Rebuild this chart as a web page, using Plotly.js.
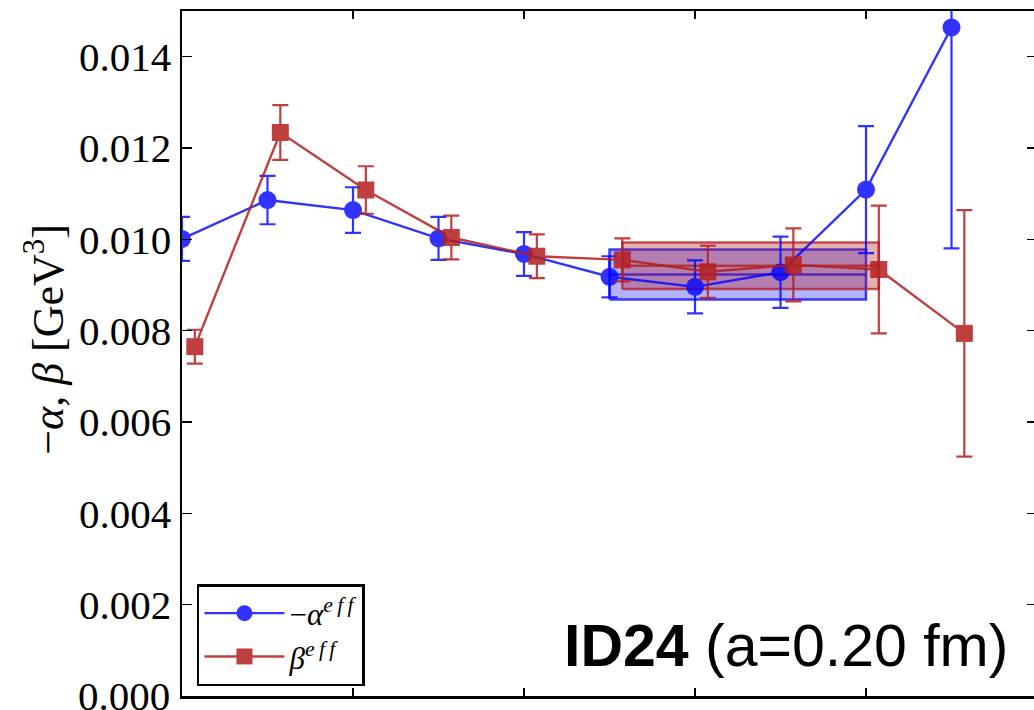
<!DOCTYPE html>
<html>
<head>
<meta charset="utf-8">
<script src="https://cdn.plot.ly/plotly-3.0.1.min.js"></script>
<style>
html,body{margin:0;padding:0;overflow:hidden;background:#fff;width:1034px;height:710px;}
#chart{width:1040px;height:710px;}
</style>
</head>
<body>
<div id="chart"></div>
<script>
// Time slices
const tAlpha = [0, 1, 2, 3, 4, 5, 6, 7, 8, 9];
const tBeta  = [0.15, 1.15, 2.15, 3.15, 4.15, 5.15, 6.15, 7.15, 8.15, 9.15];
// -alpha^eff values and errors [GeV^3]
const alphaVals = [0.01001, 0.01086, 0.01064, 0.01002, 0.00968, 0.00918, 0.00896, 0.00928, 0.01109, 0.01464];
const alphaErrs = [0.00048, 0.00053, 0.00050, 0.00047, 0.00048, 0.00045, 0.00058, 0.00078, 0.00139, 0.00484];
// beta^eff values and errors [GeV^3]
const betaVals = [0.00765, 0.01234, 0.01108, 0.01004, 0.00963, 0.00955, 0.00929, 0.00944, 0.00934, 0.00794];
const betaErrs = [0.00037, 0.00060, 0.00052, 0.00048, 0.00048, 0.00047, 0.00057, 0.00080, 0.00140, 0.00270];
// Fit bands: [tStart, tEnd], central value, error
const alphaFitT = [5, 8];
const alphaFit = [0.00923, 0.00055];
const betaFitT = [5.15, 8.15];
const betaFit = [0.00942, 0.00051];
// Y tick values and labels
const yTicks = [0.002, 0.004, 0.006, 0.008, 0.010, 0.012, 0.014];
const yZeroLabel = '0.000';

const blue = '#0000ff';
const red = '#b41e1e';
const serif = 'Liberation Serif, serif';

function band(tr, fit, fill, edge) {
  const lo = fit[0] - fit[1], hi = fit[0] + fit[1];
  return [{
    x: [tr[0], tr[1], tr[1], tr[0], tr[0]],
    y: [lo, lo, hi, hi, lo],
    mode: 'lines', fill: 'toself', fillcolor: fill,
    line: {color: edge, width: 2.5}, showlegend: false, hoverinfo: 'skip'
  }, {
    x: tr, y: [fit[0], fit[0]],
    mode: 'lines', line: {color: edge, width: 2.5}, showlegend: false, hoverinfo: 'skip'
  }];
}

const traces = [
  ...band(alphaFitT, alphaFit, 'rgba(0,0,255,0.30)', 'rgba(0,0,255,0.75)'),
  ...band(betaFitT, betaFit, 'rgba(180,30,30,0.35)', 'rgba(180,30,30,0.75)'),
  {
    x: tAlpha, y: alphaVals, name: '−<i>α</i><sup><i>e\u2009f\u2009f</i></sup>',
    mode: 'lines+markers', opacity: 0.8,
    line: {color: blue, width: 2.4},
    marker: {symbol: 'circle', size: 18, color: blue},
    error_y: {type: 'data', array: alphaErrs, visible: true, color: blue, thickness: 2.2, width: 8}
  },
  {
    x: tBeta, y: betaVals, name: '<i>β</i><sup><i>e\u2009f\u2009f</i></sup>',
    mode: 'lines+markers', opacity: 0.85,
    line: {color: red, width: 2.4},
    marker: {symbol: 'square', size: 17, color: red},
    error_y: {type: 'data', array: betaErrs, visible: true, color: red, thickness: 2.2, width: 8}
  }
];

const layout = {
  width: 1040, height: 710,
  margin: {l: 182, r: 3, t: 11, b: 14},
  paper_bgcolor: '#fff', plot_bgcolor: '#fff',
  font: {family: serif, color: '#000'},
  showlegend: true,
  legend: {
    x: 0.0175, y: 0.1635, xanchor: 'left', yanchor: 'top',
    bgcolor: '#fff', bordercolor: '#000', borderwidth: 2.5,
    font: {family: serif, size: 31, color: '#000'},
    itemwidth: 80, tracegroupgap: 0
  },
  xaxis: {
    range: [0, 10], dtick: 2, tick0: 0,
    showticklabels: false, ticks: 'inside', ticklen: 8, tickwidth: 1.5, tickcolor: '#000',
    showline: true, linecolor: '#000', linewidth: 2.5, mirror: 'ticks',
    showgrid: false, zeroline: false
  },
  yaxis: {
    range: [0, 0.015], tickvals: yTicks, tickformat: '.3f',
    ticks: 'inside', ticklen: 10, tickwidth: 1.5, tickcolor: '#000',
    showline: true, linecolor: '#000', linewidth: 2.5, mirror: 'ticks',
    showgrid: false, zeroline: false,
    tickfont: {family: serif, size: 41, color: '#000'}
  },
  annotations: [{
    xref: 'paper', yref: 'paper', x: 0.968, y: 0.022, xanchor: 'right', yanchor: 'bottom',
    text: '<b>ID24</b> (a=0.20 fm)', showarrow: false,
    font: {family: 'Liberation Sans, Arial, sans-serif', size: 59, color: '#000'}
  }, {
    xref: 'paper', yref: 'y', x: 0, y: 0, xanchor: 'right', yanchor: 'middle', xshift: -10,
    text: yZeroLabel, showarrow: false,
    font: {family: serif, size: 41, color: '#000'}
  }, {
    xref: 'paper', yref: 'paper', x: 0, y: 0.52, xanchor: 'center', yanchor: 'middle', xshift: -137,
    textangle: -90, showarrow: false,
    text: '−<i>α</i>, <i>β</i> [GeV<sup>3</sup>]',
    font: {family: serif, size: 44, color: '#000'}
  }]
};

Plotly.newPlot('chart', traces, layout, {displayModeBar: false, staticPlot: true});
</script>
</body>
</html>
